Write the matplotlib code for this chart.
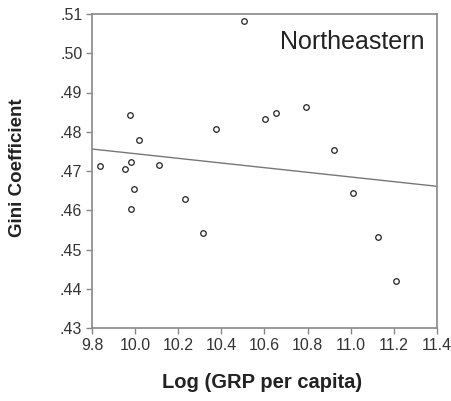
import numpy as np
import matplotlib.pyplot as plt

plt.rcParams['font.family'] = ['Liberation Sans', 'DejaVu Sans']

# Log GRP per capita vs Gini coefficient (Northeastern)
log_grp = [9.838, 9.951, 9.981, 9.976, 10.018, 10.112, 9.993, 9.982, 10.231,
           10.313, 10.377, 10.505, 10.604, 10.653, 10.793, 10.922, 11.012,
           11.126, 11.208]
gini = [0.4714, 0.4705, 0.4723, 0.4843, 0.4779, 0.4715, 0.4654, 0.4604, 0.4628,
        0.4543, 0.4806, 0.5083, 0.4833, 0.4847, 0.4862, 0.4753, 0.4644,
        0.4532, 0.4421]
fit_x = [9.8, 11.4]
fit_y = [0.4756, 0.4661]

x_ticks = [9.8, 10.0, 10.2, 10.4, 10.6, 10.8, 11.0, 11.2, 11.4]
y_ticks = [0.43, 0.44, 0.45, 0.46, 0.47, 0.48, 0.49, 0.50, 0.51]
y_labels = ['.43', '.44', '.45', '.46', '.47', '.48', '.49', '.50', '.51']

fig = plt.figure(figsize=(4.51, 4.01), dpi=100)
ax = fig.add_axes([92 / 451, 1 - 328 / 401, 345 / 451, 314 / 401])

ax.plot(fit_x, fit_y, color='#777777', linewidth=1.0)
ax.plot(log_grp, gini, linestyle='none', marker='o', markersize=4,
        markerfacecolor='white', markeredgecolor='#222222', markeredgewidth=0.9)

ax.set_xlim(9.8, 11.4)
ax.set_ylim(0.43, 0.51)
ax.set_xticks(x_ticks)
ax.set_xticklabels([f'{v:.1f}' for v in x_ticks])
ax.set_yticks(y_ticks)
ax.set_yticklabels(y_labels)
ax.tick_params(direction='out', length=4, width=1, color='#888888',
               labelsize=11.5, labelcolor='#333333', pad=3)
for s in ax.spines.values():
    s.set_color('#888888')
    s.set_linewidth(1.2)

ax.text(0.965, 0.95, 'Northeastern', transform=ax.transAxes, ha='right', va='top',
        fontsize=18, color='#222222')

fig.text(262 / 451, 1 - 383 / 401, 'Log (GRP per capita)', ha='center',
         va='center', fontsize=14.5, fontweight='bold', color='#222222')
fig.text(18 / 451, 1 - 168 / 401, 'Gini Coefficient', ha='center', va='center',
         rotation=90, fontsize=13.5, fontweight='bold', color='#222222')

fig.savefig('out.png', dpi=100)
